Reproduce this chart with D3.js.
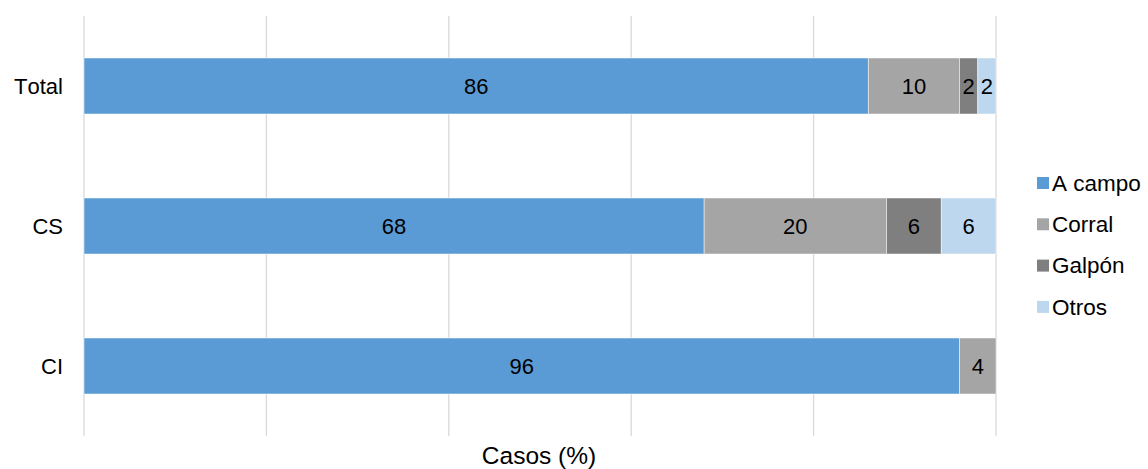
<!DOCTYPE html>
<html>
<head>
<meta charset="utf-8">
<script src="https://cdn.jsdelivr.net/npm/d3@7"></script>
<style>
  html, body { margin: 0; padding: 0; background: #fff; }
  svg { display: block; font-family: "Liberation Sans", Arial, sans-serif; font-kerning: none; }
</style>
</head>
<body>
<div id="chart"></div>
<script>
(function () {
  "use strict";

  /* Data */
  var categories = ["Total", "CS", "CI"];
  var seriesNames = ["A campo", "Corral", "Galpón", "Otros"];
  var aCampo = [86, 68, 96];
  var corral = [10, 20, 4];
  var galpon = [2, 6, 0];
  var otros = [2, 6, 0];
  var xTicks = [0, 20, 40, 60, 80, 100];
  var colors = ["#5B9BD5", "#A5A5A5", "#7F7F7F", "#BDD7EE"];

  var W = 1148, H = 469;
  var m = { l: 84, r: 152, t: 16, b: 33 };
  var iw = W - m.l - m.r, ih = H - m.t - m.b;

  var rows = categories.map(function (c, i) {
    return { cat: c, "A campo": aCampo[i], "Corral": corral[i], "Galpón": galpon[i], "Otros": otros[i] };
  });
  var stacked = d3.stack().keys(seriesNames)(rows);

  var svg = d3.select("#chart").append("svg").attr("width", W).attr("height", H);
  var g = svg.append("g").attr("transform", "translate(" + m.l + "," + m.t + ")");

  var x = d3.scaleLinear().domain([0, 100]).range([0, iw]);
  var y = d3.scaleBand().domain(categories).range([0, ih]).paddingInner(0.6).paddingOuter(0.3);

  // Gridlines
  g.append("g").selectAll("line").data(xTicks).join("line")
    .attr("x1", function (d) { return x(d); }).attr("x2", function (d) { return x(d); })
    .attr("y1", 0).attr("y2", ih)
    .attr("stroke", "#D9D9D9").attr("stroke-width", 1.3);

  // Bars
  var layers = g.append("g").selectAll("g").data(stacked).join("g")
    .attr("fill", function (d, i) { return colors[i]; });

  layers.selectAll("rect").data(function (d) { return d; }).join("rect")
    .filter(function (d) { return d[1] - d[0] > 0; })
    .attr("x", function (d) { return x(d[0]); })
    .attr("width", function (d) { return x(d[1]) - x(d[0]); })
    .attr("y", function (d) { return y(d.data.cat); })
    .attr("height", y.bandwidth())
    .attr("stroke", "#fff").attr("stroke-width", 0.8).attr("stroke-opacity", 0.6);

  // Value labels
  layers.selectAll("text").data(function (d) { return d; }).join("text")
    .filter(function (d) { return d[1] - d[0] > 0; })
    .attr("x", function (d) { return (x(d[0]) + x(d[1])) / 2; })
    .attr("y", function (d) { return y(d.data.cat) + y.bandwidth() / 2; })
    .attr("dy", "0.35em")
    .attr("text-anchor", "middle")
    .attr("fill", "#000")
    .style("font-size", "22px")
    .text(function (d) { return d[1] - d[0]; });

  // Category labels
  g.append("g").selectAll("text").data(categories).join("text")
    .attr("x", -21)
    .attr("y", function (d) { return y(d) + y.bandwidth() / 2; })
    .attr("dy", "0.35em")
    .attr("text-anchor", "end")
    .style("font-size", "22px")
    .text(function (d) { return d; });

  // Axis title
  svg.append("text")
    .attr("x", m.l + iw / 2 - 1).attr("y", 464)
    .attr("text-anchor", "middle")
    .style("font-size", "24.5px")
    .text("Casos (%)");

  // Legend
  var leg = svg.append("g").attr("transform", "translate(1037,183)");
  var item = leg.selectAll("g").data(seriesNames).join("g")
    .attr("transform", function (d, i) { return "translate(0," + i * 41.3 + ")"; });
  item.append("rect").attr("x", 0).attr("y", -6).attr("width", 12).attr("height", 12)
    .attr("fill", function (d, i) { return colors[i]; });
  item.append("text").attr("x", 15).attr("y", 0).attr("dy", "0.35em")
    .style("font-size", "22.5px")
    .text(function (d) { return d; });
})();
</script>
</body>
</html>
